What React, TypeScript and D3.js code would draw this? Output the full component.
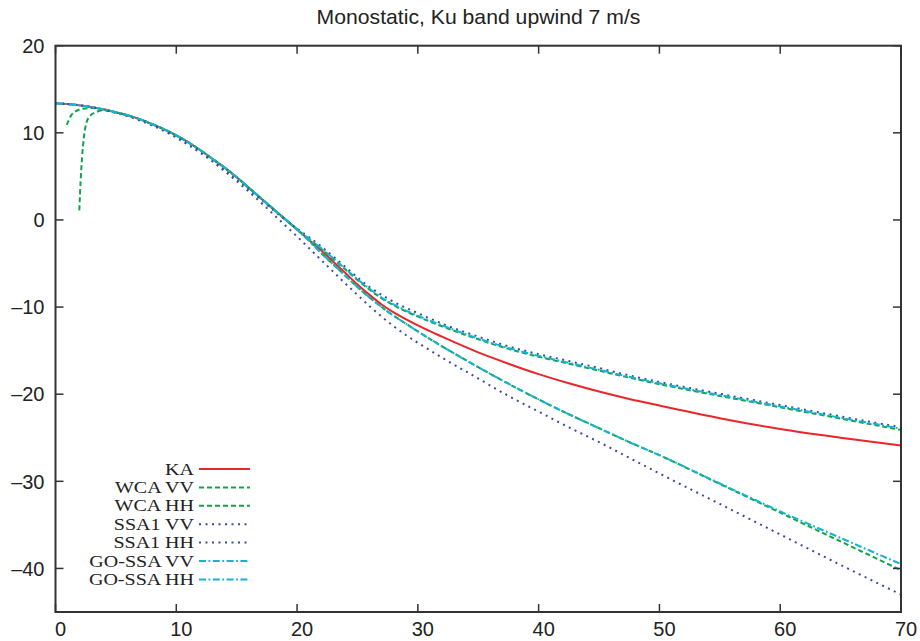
import React from "react";
import * as d3 from "d3";

const TITLE = "Monostatic, Ku band upwind 7 m/s";
const X_TICKS = [0, 10, 20, 30, 40, 50, 60, 70];
const Y_TICKS = [20, 10, 0, -10, -20, -30, -40];

// shared near-nadir part (all models coincide)
const commonX = [0, 1, 2, 3, 4, 5, 6, 7, 8, 9, 10, 11, 12, 13, 14, 15, 16, 17, 18, 19, 20];
const commonY = [13.4, 13.3, 13.15, 12.95, 12.7, 12.35, 12.0, 11.55, 11.0, 10.4, 9.7, 8.9, 8.0, 7.0, 6.0, 4.9, 3.7, 2.5, 1.3, 0.1, -1.1];

const tailX = [21, 22, 23, 24, 25, 26, 27, 28, 30, 32, 35, 37.5, 40, 42.5, 45, 47.5, 50, 55, 60, 65, 70];
const kaTail = [-2.3, -3.5, -4.8, -6.1, -7.4, -8.6, -9.7, -10.6, -12.1, -13.4, -15.2, -16.5, -17.7, -18.75, -19.7, -20.55, -21.3, -22.75, -24.0, -25.0, -25.9];
const wcaVVTail = [-2.2, -3.3, -4.5, -5.7, -6.9, -8.0, -9.0, -9.8, -11.1, -12.2, -13.7, -14.8, -15.7, -16.5, -17.3, -18.1, -18.85, -20.2, -21.5, -22.8, -24.1];
const goVVTail = [-2.15, -3.25, -4.4, -5.6, -6.8, -7.9, -8.9, -9.7, -11.0, -12.1, -13.6, -14.7, -15.6, -16.4, -17.2, -18.0, -18.75, -20.1, -21.4, -22.7, -23.95];
const ssaVVTail = [-2.0, -3.05, -4.2, -5.4, -6.6, -7.7, -8.6, -9.4, -10.7, -11.9, -13.4, -14.5, -15.4, -16.2, -17.0, -17.85, -18.6, -19.95, -21.25, -22.55, -23.8];

const hhTailX = [21, 22, 23, 24, 25, 26, 27, 28, 29, 30, 32, 35, 37.5, 40, 42.5, 45, 47.5, 50, 55, 60, 65, 70];
const wcaHHTail = [-2.4, -3.8, -5.1, -6.4, -7.7, -8.9, -10.0, -11.0, -11.9, -12.8, -14.5, -16.9, -18.8, -20.6, -22.3, -23.9, -25.5, -27.0, -30.3, -33.6, -36.9, -40.2];
const goHHTail = [-2.4, -3.8, -5.1, -6.4, -7.7, -8.9, -10.0, -11.0, -11.9, -12.8, -14.5, -16.9, -18.8, -20.6, -22.3, -23.9, -25.5, -27.0, -30.25, -33.45, -36.5, -39.5];

const ssaVVHeadY = [13.4, 13.3, 13.15, 12.95, 12.65, 12.3, 11.95, 11.5, 10.95, 10.3, 9.55, 8.75, 7.85, 6.85, 5.8, 4.7, 3.5, 2.35, 1.15, 0.05, -1.0];
const ssaHHHeadY = [13.4, 13.3, 13.15, 12.95, 12.65, 12.3, 11.9, 11.4, 10.85, 10.2, 9.45, 8.6, 7.7, 6.7, 5.6, 4.45, 3.25, 2.0, 0.7, -0.6, -1.9];
const ssaHHTailX = [21, 22, 23, 24, 25, 26, 27, 28, 29, 30, 32, 35, 37.5, 40, 42.5, 45, 47.5, 50, 55, 60, 65, 70];
const ssaHHTail = [-3.25, -4.6, -5.95, -7.3, -8.6, -9.9, -11.1, -12.2, -13.2, -14.1, -15.8, -18.2, -20.2, -22.0, -23.8, -25.5, -27.3, -29.1, -32.6, -36.1, -39.6, -43.0];

// WCA near-nadir artefacts
const wcaVVHeadX = [0.93, 1.3, 1.7, 2.2, 3, 4, 5];
const wcaVVHeadY = [10.9, 12.0, 12.5, 12.75, 12.85, 12.65, 12.35];
const wcaHHHeadX = [1.97, 2.08, 2.2, 2.35, 2.55, 2.9, 3.4, 4, 5];
const wcaHHHeadY = [1.1, 4.5, 7.2, 9.5, 11.1, 12.0, 12.4, 12.6, 12.35];

const LEGEND = ["KA", "WCA VV", "WCA HH", "SSA1 VV", "SSA1 HH", "GO-SSA VV", "GO-SSA HH"];

type P = [number, number];
const zip = (xs: number[], ys: number[]): P[] => xs.map((x, i) => [x, ys[i]]);

const commonPts = zip(commonX, commonY);
const laterCommon = commonPts.filter((p) => p[0] > 5);

const series = [
  { name: LEGEND[0], color: "#e8262b", dash: "none", pts: [...commonPts, ...zip(tailX, kaTail)] },
  { name: LEGEND[1], color: "#10a44a", dash: "5,3", pts: [...zip(wcaVVHeadX, wcaVVHeadY), ...laterCommon, ...zip(tailX, wcaVVTail)] },
  { name: LEGEND[2], color: "#10a44a", dash: "5,3", pts: [...zip(wcaHHHeadX, wcaHHHeadY), ...laterCommon, ...zip(hhTailX, wcaHHTail)] },
  { name: LEGEND[3], color: "#3a4aa6", dash: "2,4.5", pts: [...zip(commonX, ssaVVHeadY), ...zip(tailX, ssaVVTail)] },
  { name: LEGEND[4], color: "#3a4aa6", dash: "2,4.5", pts: [...zip(commonX, ssaHHHeadY), ...zip(ssaHHTailX, ssaHHTail)] },
  { name: LEGEND[5], color: "#14b4d2", dash: "7,2.5,1.8,2.5", pts: [...commonPts, ...zip(tailX, goVVTail)] },
  { name: LEGEND[6], color: "#14b4d2", dash: "7,2.5,1.8,2.5", pts: [...commonPts, ...zip(hhTailX, goHHTail)] },
];

export default function App() {
  const W = 920, H = 641;
  const left = 55.5, right = 901, top = 45.7, bottom = 612;
  const x = d3.scaleLinear().domain([0, 70]).range([left, right]);
  const y = d3.scaleLinear().domain([-45, 20]).range([bottom, top]);
  const line = d3.line<P>().x((d) => x(d[0])).y((d) => y(d[1])).curve(d3.curveMonotoneX);
  const axisColor = "#333";
  const tickLen = 8;
  const legendX = 194;
  const legendY0 = 469;
  const legendDy = 18.4;

  return (
    <svg width={W} height={H} style={{ position: "absolute", left: 0, top: 0, background: "#fff" }}
      fontFamily="'Liberation Sans', Arial, sans-serif">
      <defs>
        <clipPath id="plot"><rect x={left} y={top} width={right - left} height={bottom - top} /></clipPath>
      </defs>
      <rect x={0} y={0} width={W} height={H} fill="#fff" />
      <text x={478.5} y={24} textAnchor="middle" fontSize={20} fill="#222"
        transform={`translate(478.5,0) scale(1.06,1) translate(-478.5,0)`}>{TITLE}</text>

      <g clipPath="url(#plot)">
        {series.map((s) => (
          <path key={s.name} d={line(s.pts) || ""} fill="none" stroke={s.color} strokeWidth={2}
            strokeDasharray={s.dash === "none" ? undefined : s.dash} />
        ))}
      </g>

      {/* frame */}
      <rect x={left} y={top} width={right - left} height={bottom - top} fill="none" stroke={axisColor} strokeWidth={2} />
      {X_TICKS.map((t) => (
        <g key={"x" + t}>
          <line x1={x(t)} x2={x(t)} y1={bottom} y2={bottom - tickLen} stroke={axisColor} strokeWidth={1.5} />
          <line x1={x(t)} x2={x(t)} y1={top} y2={top + tickLen} stroke={axisColor} strokeWidth={1.5} />
          <text x={x(t) + 5} y={636} textAnchor="middle" fontSize={20} fill="#222">{t}</text>
        </g>
      ))}
      {Y_TICKS.map((t) => (
        <g key={"y" + t}>
          <line x1={left} x2={left + tickLen} y1={y(t)} y2={y(t)} stroke={axisColor} strokeWidth={1.5} />
          <line x1={right} x2={right - tickLen} y1={y(t)} y2={y(t)} stroke={axisColor} strokeWidth={1.5} />
          <text x={44.5} y={y(t) + 7.2} textAnchor="end" fontSize={20} fill="#222">{t < 0 ? "\u2013" + Math.abs(t) : t}</text>
        </g>
      ))}

      {/* legend */}
      {series.map((s, i) => {
        const ly = legendY0 + i * legendDy;
        return (
          <g key={"lg" + s.name}>
            <text transform={`translate(${legendX},${ly + 5.5}) scale(1.25,1)`} textAnchor="end" fontSize={16}
              fontFamily="'Liberation Serif', 'Times New Roman', serif" fill="#222">{s.name}</text>
            <line x1={199} x2={250} y1={ly} y2={ly} stroke={s.color} strokeWidth={2}
              strokeDasharray={s.dash === "none" ? undefined : s.dash} />
          </g>
        );
      })}
    </svg>
  );
}
